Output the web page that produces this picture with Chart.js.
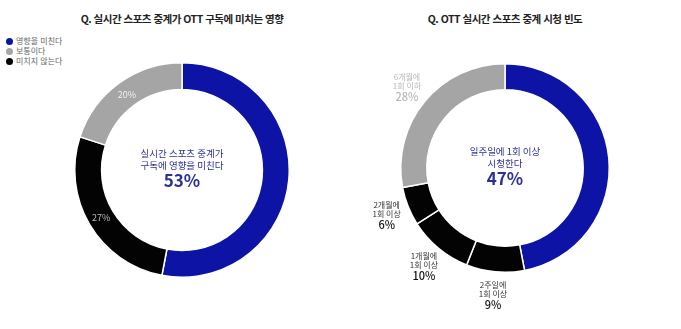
<!DOCTYPE html>
<html lang="ko">
<head>
<meta charset="utf-8">
<script src="https://cdn.jsdelivr.net/npm/chart.js@4.4.1/dist/chart.umd.min.js"></script>
<style>
  html, body { margin: 0; padding: 0; background: #fff; }
  body { width: 681px; height: 329px; position: relative; overflow: hidden;
         font-family: "Noto Sans CJK KR", "Noto Sans", sans-serif; }
  .box { position: absolute; top: 0; height: 329px; }
  .title { position: absolute; top: 11px; font-size: 10.5px; font-weight: 700; color: #222;
           white-space: nowrap; transform: translateX(-50%); letter-spacing: -0.5px; }
  #legend { position: absolute; left: 6px; top: 36px; font-size: 8px; color: #666; line-height: 10px; }
  #legend span.dot { display: inline-block; width: 7px; height: 7px; border-radius: 50%;
                     margin-right: 3px; vertical-align: -1px; }
</style>
</head>
<body>
<div class="title" style="left:182px">Q. 실시간 스포츠 중계가 OTT 구독에 미치는 영향</div>
<div class="title" style="left:505px">Q. OTT 실시간 스포츠 중계 시청 빈도</div>
<div id="legend"></div>
<div class="box" style="left:0;width:340px"><canvas id="chartEffect"></canvas></div>
<div class="box" style="left:340px;width:341px"><canvas id="chartFreq"></canvas></div>
<script>
// 영향 (왼쪽)
var effectLabels = ["영향을 미친다", "보통이다", "미치지 않는다"];
var effectValues = [53, 20, 27];
// 도넛 그리는 순서: 영향을 미친다, 미치지 않는다, 보통이다
var effectOrder = [0, 2, 1];
var effectColors = ["#0d14a5", "#a5a5a5", "#030303"];
var effectTextColors = ["#ffffff", "#f2f2f2", "#bdbdbd"];

// 시청 빈도 (오른쪽)
var freqLabels = [["일주일에", "1회 이상"], ["2주일에", "1회 이상"], ["1개월에", "1회 이상"],
    ["2개월에", "1회 이상"], ["6개월에", "1회 이하"]];
var freqValues = [47, 9, 10, 6, 28];
var freqColors = ["#0d14a5", "#030303", "#030303", "#030303", "#a5a5a5"];
var freqTextColors = ["#0d14a5", "#333333", "#333333", "#333333", "#b8b8b8"];

var centerBlue = "#2b2f98";

// 범례
var legendHtml = '';
for (var i = 0; i < effectLabels.length; i++) {
    legendHtml += '<div><span class="dot" style="background:' + effectColors[i] + '"></span>' + effectLabels[i] + '</div>';
}
document.getElementById('legend').innerHTML = legendHtml;

var FONT = '"Noto Sans CJK KR", "Noto Sans", sans-serif';

// 도넛 가운데 텍스트
function centerText(lines, pct) {
    return {
        id: 'centerText',
        afterDatasetsDraw: function (chart) {
            var arc = chart.getDatasetMeta(0).data[0];
            var ctx = chart.ctx;
            ctx.save();
            ctx.fillStyle = centerBlue;
            ctx.textAlign = 'center';
            ctx.textBaseline = 'middle';
            ctx.font = '400 9.5px ' + FONT;
            var y = arc.y - 17;
            for (var i = 0; i < lines.length; i++) {
                ctx.fillText(lines[i], arc.x, y + i * 12);
            }
            ctx.font = '700 17px ' + FONT;
            ctx.fillText(pct, arc.x, arc.y + 11);
            ctx.restore();
        }
    };
}

// 조각 안쪽 퍼센트 (왼쪽)
var insideLabels = {
    id: 'insideLabels',
    afterDatasetsDraw: function (chart) {
        var meta = chart.getDatasetMeta(0);
        var ds = chart.data.datasets[0];
        var ctx = chart.ctx;
        ctx.save();
        ctx.textAlign = 'center';
        ctx.textBaseline = 'middle';
        ctx.font = '400 9px ' + FONT;
        meta.data.forEach(function (arc, i) {
            if (i === 0) return;
            var p = arc.tooltipPosition();
            ctx.fillStyle = ds.textColors[i];
            ctx.fillText(ds.data[i] + '%', p.x, p.y);
        });
        ctx.restore();
    }
};

// 조각 바깥 라벨 (오른쪽)
var outsideLabels = {
    id: 'outsideLabels',
    afterDatasetsDraw: function (chart) {
        var meta = chart.getDatasetMeta(0);
        var ds = chart.data.datasets[0];
        var ctx = chart.ctx;
        ctx.save();
        ctx.textAlign = 'center';
        ctx.textBaseline = 'middle';
        meta.data.forEach(function (arc, i) {
            if (i === 0) return;
            var mid = (arc.startAngle + arc.endAngle) / 2;
            var r = arc.outerRadius + 23;
            var x = arc.x + Math.cos(mid) * r;
            var y = arc.y + Math.sin(mid) * r;
            var lines = chart.data.labels[i];
            ctx.fillStyle = ds.textColors[i];
            ctx.font = '400 8px ' + FONT;
            ctx.fillText(lines[0], x, y - 10);
            ctx.fillText(lines[1], x, y - 1);
            ctx.font = '500 11px ' + FONT;
            ctx.fillStyle = i === 4 ? ds.textColors[i] : '#111';
            ctx.fillText(ds.data[i] + '%', x, y + 10);
        });
        ctx.restore();
    }
};

var baseOptions = function (pad) {
    return {
        responsive: true,
        maintainAspectRatio: false,
        animation: false,
        events: [],
        cutout: '75%',
        layout: { padding: pad },
        plugins: { legend: { display: false }, tooltip: { enabled: false } }
    };
};

new Chart('chartEffect', {
    type: 'doughnut',
    data: {
        labels: effectOrder.map(function (k) { return effectLabels[k]; }),
        datasets: [{
            data: effectOrder.map(function (k) { return effectValues[k]; }),
            backgroundColor: effectOrder.map(function (k) { return effectColors[k]; }),
            textColors: effectOrder.map(function (k) { return effectTextColors[k]; }),
            borderColor: '#ffffff',
            borderWidth: 1.5,
            hoverOffset: 0
        }]
    },
    options: baseOptions({ left: 74, right: 50, top: 62, bottom: 51 }),
    plugins: [insideLabels, centerText(["실시간 스포츠 중계가", "구독에 영향을 미친다"], "53%")]
});

new Chart('chartFreq', {
    type: 'doughnut',
    data: {
        labels: freqLabels,
        datasets: [{
            data: freqValues,
            backgroundColor: freqColors,
            textColors: freqTextColors,
            borderColor: '#ffffff',
            borderWidth: 1.5,
            hoverOffset: 0
        }]
    },
    options: baseOptions({ left: 60, right: 71, top: 63, bottom: 56 }),
    plugins: [outsideLabels, centerText(["일주일에 1회 이상", "시청한다"], "47%")]
});
</script>
</body>
</html>
